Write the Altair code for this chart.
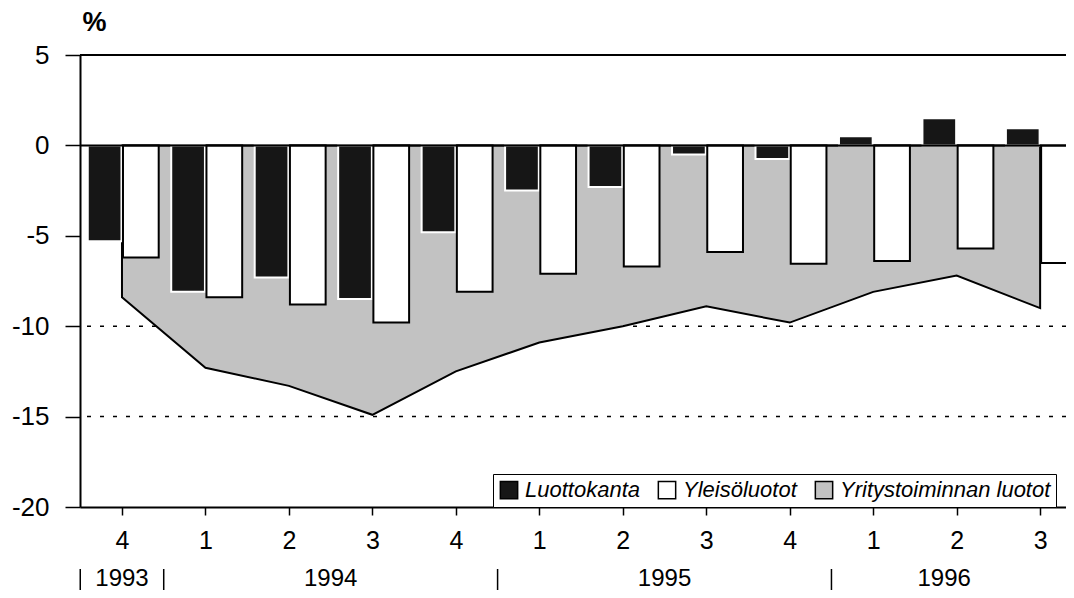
import json
import altair as alt
import pandas as pd

# ---- data ----
quarters = ["4", "1", "2", "3", "4", "1", "2", "3", "4", "1", "2", "3"]
years = ["1993", "1994", "1995", "1996"]
year_centers = [0, 2.5, 6.5, 9.85]
year_breaks = [-0.5, 0.5, 4.5, 8.5]
series_names = ["Luottokanta", "Yleisöluotot", "Yritystoiminnan luotot"]
luottokanta = [-5.3, -8.1, -7.3, -8.5, -4.8, -2.5, -2.3, -0.5, -0.75, 0.5, 1.5, 0.95]
yleisoluotot = [-6.2, -8.4, -8.8, -9.8, -8.1, -7.1, -6.7, -5.9, -6.55, -6.4, -5.7, -6.5]
yritys = [-8.4, -12.3, -13.3, -14.9, -12.5, -10.9, -10.0, -8.9, -9.8, -8.1, -7.2, -9.0]
y_ticks = [-20, -15, -10, -5, 0, 5]
grid_levels = [-10, -15]

rows = []
for name, vals in zip(series_names, [luottokanta, yleisoluotot, yritys]):
    for i, v in enumerate(vals):
        rows.append({"idx": i, "series": name, "value": v})
df = pd.DataFrame(rows)

FONT = "Liberation Sans"
xscale = alt.Scale(domain=[-0.503, 11.31], nice=False, zero=False)
yscale = alt.Scale(domain=[-20, 5], nice=False, zero=False)

xaxis = alt.Axis(
    values=list(range(len(quarters))),
    labelExpr=json.dumps(quarters) + "[datum.value]",
    tickSize=8, labelPadding=13, labelFontSize=25, labelFont=FONT,
    labelColor="black", tickColor="black", tickWidth=1.5,
    domainColor="black", domainWidth=2, grid=False, title=None,
)
yaxis = alt.Axis(
    values=y_ticks, labelExpr="'' + datum.value",
    tickSize=15, labelPadding=16, labelFontSize=26, labelFont=FONT,
    labelColor="black", tickColor="black", tickWidth=1.5,
    domainColor="black", domainWidth=2, grid=False,
    title="%", titleAngle=0, titleX=2, titleY=-19, titleAlign="left",
    titleBaseline="bottom", titleFontSize=27, titleFont=FONT,
    titleFontWeight="bold", titleColor="black",
)

color = alt.Color(
    "series:N",
    scale=alt.Scale(domain=series_names, range=["#161616", "#ffffff", "#c2c2c2"]),
    legend=alt.Legend(
        orient="none", legendX=413, legendY=419, direction="horizontal",
        title=None, symbolType="square", symbolSize=300,
        symbolStrokeColor="black", symbolStrokeWidth=1.5,
        labelFont=FONT, labelFontSize=22, labelFontStyle="italic",
        labelColor="black", labelLimit=400, labelOffset=5,
        columnPadding=15, padding=5,
        strokeColor="black", fillColor="white",
    ),
)

base = alt.Chart(df)

grid = alt.Chart(pd.DataFrame({"v": grid_levels})).mark_rule(
    color="black", strokeWidth=1.5, strokeDash=[4, 9]
).encode(y=alt.Y("v:Q", scale=yscale, axis=yaxis))

area = base.transform_filter(
    alt.datum.series == "Yritystoiminnan luotot"
).mark_area(stroke="black", strokeWidth=2, opacity=1).encode(
    x=alt.X("idx:Q", scale=xscale, axis=xaxis),
    y=alt.Y("value:Q", scale=yscale, axis=yaxis),
    y2=alt.datum(0),
    color=color,
)

bars = base.transform_filter(
    (alt.datum.series == "Luottokanta") | (alt.datum.series == "Yleisöluotot")
).transform_calculate(
    x0="datum.series == 'Luottokanta' ? datum.idx - 0.41 : datum.idx + 0.012",
    x1="datum.series == 'Luottokanta' ? datum.idx - 0.006 : datum.idx + 0.44",
).mark_bar(clip=True, strokeWidth=2).encode(
    x=alt.X("x0:Q", scale=xscale, axis=xaxis),
    x2="x1:Q",
    y=alt.Y("value:Q", scale=yscale, axis=yaxis),
    y2=alt.datum(0),
    color=color,
    stroke=alt.when(alt.datum.series == "Yleisöluotot")
    .then(alt.value("black"))
    .otherwise(alt.value("white")),
)

zero = alt.Chart(pd.DataFrame({"v": [0]})).mark_rule(
    color="black", strokeWidth=2
).encode(y=alt.Y("v:Q", scale=yscale, axis=yaxis))

top = alt.Chart(pd.DataFrame({"v": [5]})).mark_rule(
    color="black", strokeWidth=2
).encode(y=alt.Y("v:Q", scale=yscale, axis=yaxis))

year_df = pd.DataFrame({"year": years, "pos": year_centers})
year_text = alt.Chart(year_df).mark_text(
    fontSize=24, font=FONT, color="black", baseline="middle", align="center"
).encode(
    x=alt.X("pos:Q", scale=xscale, axis=xaxis),
    y=alt.value(524),
    text="year:N",
)

sep = alt.Chart(pd.DataFrame({"b": year_breaks})).mark_rule(
    color="black", strokeWidth=1.5
).encode(
    x=alt.X("b:Q", scale=xscale, axis=xaxis),
    y=alt.value(514),
    y2=alt.value(535),
)

chart = alt.layer(grid, area, bars, zero, top, year_text, sep).properties(
    width=986,
    height=452,
    padding={"left": 72, "top": 47, "right": 0, "bottom": 83},
    autosize=alt.AutoSizeParams(type="none"),
).configure_view(stroke=None)

chart.save("out.html", embed_options={"renderer": "svg", "actions": False})
